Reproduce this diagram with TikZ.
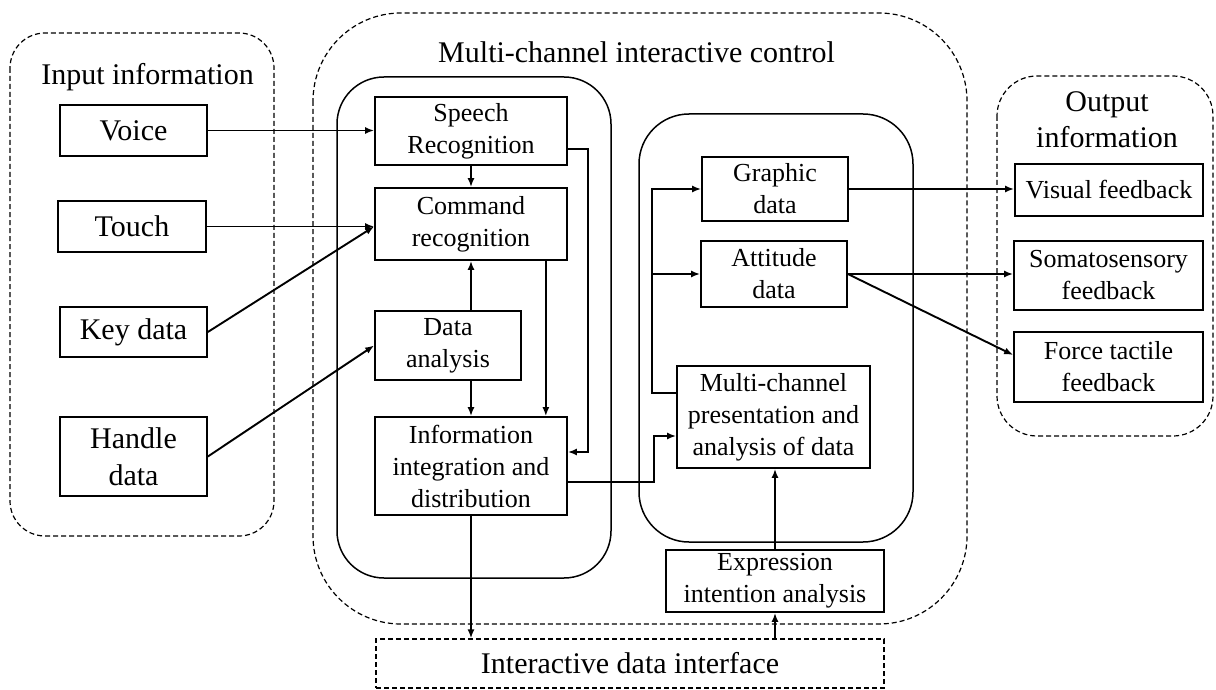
\documentclass[tikz,border=0pt]{standalone}
\usepackage{fontspec}
\setmainfont{Liberation Serif}
\usetikzlibrary{calc,arrows.meta}
\begin{document}
\begin{tikzpicture}[x=0.5pt,y=-0.5pt,
  box/.style={draw, line width=0.85pt, inner sep=0pt, align=center, font=\fontsize{13}{16}\selectfont},
  bigbox/.style={box, font=\fontsize{15}{18.5}\selectfont},
  arr/.style={line width=0.95pt, -{Latex[length=4.5pt,width=3.5pt]}},
  dashline/.style={line width=0.6pt, dash pattern=on 2.5pt off 1.5pt},
  solidframe/.style={line width=0.75pt},
  lbl/.style={inner sep=0pt, font=\fontsize{15}{18}\selectfont}
]
\useasboundingbox (0,0) rectangle (1216,690);

% containers
\draw[dashline, rounded corners=17.5pt] (10,33) rectangle (274,536);
\draw[dashline, rounded corners=44pt] (313,13) rectangle (967,624);
\draw[solidframe, rounded corners=23.5pt] (337,77) rectangle (611,578);
\draw[solidframe, rounded corners=25pt] (639,114) rectangle (913,542);
\draw[dashline, rounded corners=20pt] (997,76) rectangle (1213,436);

% labels
\node[lbl, anchor=base] (inlbl) at (147.5,85) {Input information};
\node[lbl, anchor=base] (ttl) at (636.5,63) {Multi-channel interactive control};
\node[lbl, align=center] (outlbl) at (1107,120) {Output\\information};

% input boxes
\node[bigbox, minimum width=73.5pt, minimum height=25.5pt] (voice) at (133.5,130.5) {Voice};
\node[bigbox, minimum width=74pt, minimum height=25.5pt] (touch) at (132,226.5) {Touch};
\node[bigbox, minimum width=73.5pt, minimum height=25pt] (key) at (133.5,332) {Key data};
\node[bigbox, minimum width=73.5pt, minimum height=39.5pt] (handle) at (133.5,456.5) {Handle\\data};

% left inner group
\node[box, minimum width=96pt, minimum height=34pt] (speech) at (471,131) {Speech\\Recognition};
\node[box, minimum width=96pt, minimum height=36pt] (command) at (471,224) {Command\\recognition};
\node[box, minimum width=73pt, minimum height=34.5pt] (dataan) at (448,345.5) {Data\\analysis};
\node[box, minimum width=96pt, minimum height=49pt] (info) at (471,466) {Information\\integration and\\distribution};

% right inner group
\node[box, minimum width=73pt, minimum height=32pt] (graphic) at (775,189) {Graphic\\data};
\node[box, minimum width=73pt, minimum height=33pt] (attitude) at (774,274) {Attitude\\data};
\node[box, minimum width=96.5pt, minimum height=51pt] (mcp) at (773.5,417) {Multi-channel\\presentation and\\analysis of data};
\node[box, minimum width=109pt, minimum height=31pt] (expr) at (775,581) {Expression\\intention analysis};

% interface
\node[box, dashline, minimum width=254pt, minimum height=24.5pt, font=\fontsize{15}{18}\selectfont] (iface) at (630,663.5) {Interactive data interface};

% outputs
\node[box, minimum width=94pt, minimum height=26pt] (visual) at (1109,190) {Visual feedback};
\node[box, minimum width=94.5pt, minimum height=34.5pt] (soma) at (1108.5,275.5) {Somatosensory\\feedback};
\node[box, minimum width=94.5pt, minimum height=35pt] (force) at (1108.5,367) {Force tactile\\feedback};

% connectors: inputs
\draw[arr] (voice.east) -- (voice.east -| speech.west);
\draw[arr] (touch.east) -- (touch.east -| command.west);
\draw[arr] (key.east) -- (touch.east -| command.west);
\draw[arr] (handle.east) -- (dataan.west);

% left group internal
\draw[arr] (speech.south) -- (command.north);
\draw[arr] (dataan.north -| command.south) -- (command.south);
\draw[arr] (dataan.south -| info.north) -- (info.north);
\draw[arr] ($(command.south east)+(-22,0)$) -- ($(info.north east)+(-22,0)$);
\draw[arr] ($(speech.east)+(0,18)$) -- ++(20,0) |- ($(info.east)+(0,-14)$);
\draw[arr] (info.south) -- (info.south |- iface.north);

% to right group
\draw[arr] ($(info.east)+(0,16)$) -- ++(86,0) |- ($(mcp.west)+(0,19)$);
\coordinate (branch) at ($(mcp.west)+(-24,0)$);
\draw[arr] ($(mcp.west)+(0,-24)$) -- ++(-24,0) |- (graphic.west);
\draw[arr] (branch |- attitude.west) -- (attitude.west);
\draw[arr] (expr.north) -- (expr.north |- mcp.south);
\draw[arr] (iface.north -| expr.south) -- (expr.south);

% outputs
\draw[arr] (graphic.east) -- (graphic.east -| visual.west);
\draw[arr] (attitude.east) -- (attitude.east -| soma.west);
\draw[arr] (attitude.east) -- ($(force.west)+(0,-12)$);
\end{tikzpicture}
\end{document}
